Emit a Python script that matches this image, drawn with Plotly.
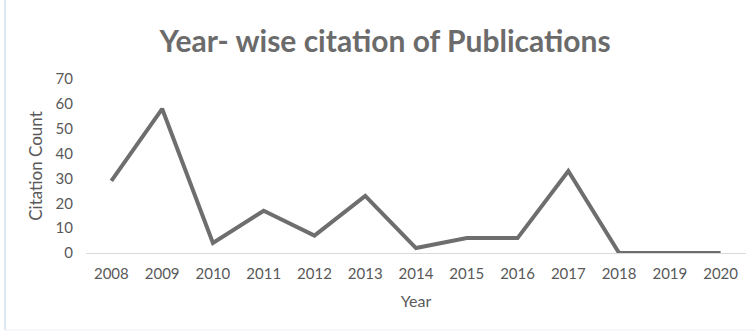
import plotly.graph_objects as go

years = ["2008", "2009", "2010", "2011", "2012", "2013", "2014",
         "2015", "2016", "2017", "2018", "2019", "2020"]
citations = [29, 58, 4, 17, 7, 23, 2, 6, 6, 33, 0, 0, 0]
y_ticks = [0, 10, 20, 30, 40, 50, 60, 70]

FONT = "Lato, Carlito, 'Open Sans', sans-serif"
TEXT = "#595959"

fig = go.Figure()
fig.add_trace(go.Scatter(
    x=years, y=citations, mode="lines",
    line=dict(color="#6e6e6e", width=4),
    hoverinfo="x+y",
))

fig.update_layout(
    width=755, height=333,
    margin=dict(l=86, r=9, t=79, b=80),
    paper_bgcolor="white", plot_bgcolor="white",
    showlegend=False,
    title=dict(
        text="<b>Year- wise citation of Publications</b>",
        x=0.51, xanchor="center", y=0.875, yanchor="middle",
        font=dict(family=FONT, size=30, color="#6b6b6b"),
    ),
    font=dict(family=FONT, size=15, color=TEXT),
    xaxis=dict(
        type="category", range=[-0.5, len(years) - 0.5],
        showgrid=False, showline=False, zeroline=False,
        ticks="", ticklabelstandoff=10,
        tickfont=dict(size=15, color=TEXT),
        title=dict(text="Year", font=dict(size=16, color=TEXT), standoff=14),
    ),
    yaxis=dict(
        range=[0, 70], tickvals=y_ticks, showgrid=False, showline=False,
        zeroline=True, zerolinecolor="#d9d9d9", zerolinewidth=1,
        ticks="", ticklabelstandoff=12,
        tickfont=dict(size=15, color=TEXT),
        title=dict(text="Citation Count", font=dict(size=17, color=TEXT), standoff=8),
    ),
)

# thin frame edges on the left and bottom of the canvas
fig.add_shape(type="line", xref="paper", yref="paper",
              x0=-81/660, x1=-81/660, y0=-77/174, y1=1 + 79/174,
              line=dict(color="#cfe0f0", width=1.5))
fig.add_shape(type="line", xref="paper", yref="paper",
              x0=-81/660, x1=1 + 9/660, y0=-77/174, y1=-77/174,
              line=dict(color="#ececf6", width=1))

fig.write_html("out.html")
